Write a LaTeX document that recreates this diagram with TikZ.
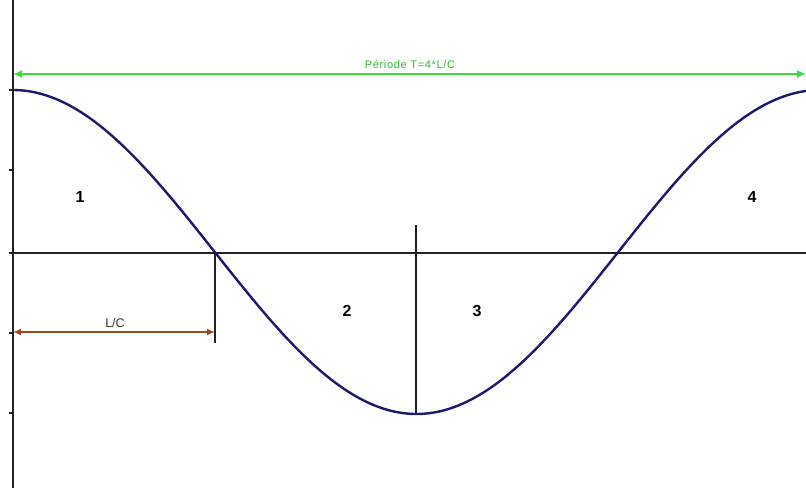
\documentclass[tikz,border=0pt]{standalone}
\usepackage{fontspec}
\setmainfont{Liberation Sans}
\usetikzlibrary{arrows.meta}
\definecolor{curvecol}{HTML}{1C1A6A}
\definecolor{greencol}{HTML}{3ADC3A}
\definecolor{browncol}{HTML}{9A4A22}
\definecolor{axiscol}{HTML}{222222}
\begin{document}
\begin{tikzpicture}[x=1pt,y=-1pt,
  axisline/.style={axiscol,line width=1.1pt},
  numlabel/.style={font=\fontsize{16}{16}\selectfont\bfseries,text=black},
  smalllabel/.style={inner sep=1pt}
]
\useasboundingbox (0,0) rectangle (806,488);
\fill[white] (0,0) rectangle (806,488);
% axes
\coordinate (ytop) at (13,0);
\coordinate (ybot) at (13,488);
\coordinate (xleft) at (13,253);
\coordinate (xright) at (806,253);
\draw[axisline] (ytop) -- (ybot);
\draw[axisline] (xleft) -- (xright);
\foreach \yy in {90,170,253,333,413}{
  \draw[axisline] (9,\yy) -- (13,\yy);
}
% vertical markers
\coordinate (zc) at (215,253);
\coordinate (zcb) at (215,343);
\coordinate (mt) at (416,225);
\coordinate (mb) at (416,413);
\draw[axisline] (zc) -- (zcb);
\draw[axisline] (mt) -- (mb);
% curve
\begin{scope}
\clip (0,0) rectangle (806,488);
\draw[curvecol,line width=2.4pt,line join=round] plot[domain=0:0.99,samples=200,smooth]
  ({13+807*\x},{252-162*cos(360*\x)});
\end{scope}
% green period arrow
\coordinate (gl) at (13,74);
\coordinate (gr) at (806,74);
\draw[greencol,line width=2.8pt,{Latex[length=9pt,width=8pt]}-{Latex[length=9pt,width=8pt]}] (gl) -- (gr);
\node[smalllabel,text=greencol!85!black,anchor=base,font=\fontsize{11}{11}\selectfont\addfontfeatures{LetterSpace=6}] (period) at (410,68) {Période T=4*L/C};
% brown L/C arrow
\coordinate (bl) at (13,332);
\coordinate (br) at (215,332);
\draw[browncol,line width=2.4pt,{Latex[length=8pt,width=7pt]}-{Latex[length=8pt,width=7pt]}] (bl) -- (br);
\node[smalllabel,text=black!80,anchor=base,font=\fontsize{12.5}{12.5}\selectfont] (lc) at (115,327) {L/C};
% region numbers
\node[numlabel] (n1) at (80,197) {1};
\node[numlabel] (n2) at (347,311) {2};
\node[numlabel] (n3) at (477,311) {3};
\node[numlabel] (n4) at (752,197) {4};
\end{tikzpicture}
\end{document}
